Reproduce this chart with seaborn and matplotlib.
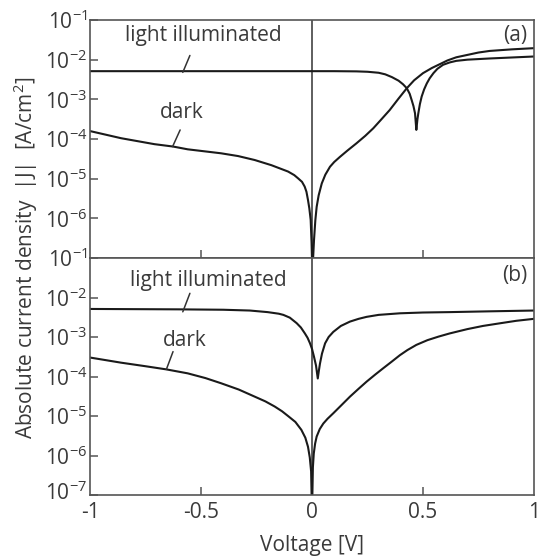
import numpy as np
import pandas as pd
import matplotlib
matplotlib.use("Agg")
import matplotlib.pyplot as plt
import matplotlib.transforms as mtransforms
import seaborn as sns

# ---------------- data (log10 |J| in A/cm^2) ----------------
a_dark_v = [-1.0, -0.86, -0.71, -0.626, -0.56, -0.41, -0.333, -0.258, -0.183, -0.108, -0.08,
            -0.063, -0.045, -0.033, -0.025, -0.018, -0.012, -0.006, -0.002, 0.002, 0.005,
            0.009, 0.015, 0.021, 0.03, 0.044, 0.06, 0.081, 0.10, 0.126, 0.16, 0.20, 0.24,
            0.276, 0.31, 0.35, 0.39, 0.427, 0.46, 0.50, 0.54, 0.577, 0.61, 0.65, 0.70,
            0.75, 0.80, 0.90, 1.0]
a_dark_logj = [-3.80, -3.98, -4.13, -4.19, -4.26, -4.36, -4.43, -4.53, -4.66, -4.82, -4.91,
               -4.99, -5.08, -5.2, -5.33, -5.54, -5.75, -6.04, -6.6, -7.5, -7.0,
               -6.55, -6.05, -5.71, -5.42, -5.12, -4.90, -4.70, -4.58, -4.45, -4.29, -4.11, -3.92,
               -3.73, -3.52, -3.27, -2.98, -2.72, -2.52, -2.34, -2.21, -2.11, -2.02, -1.94, -1.88,
               -1.82, -1.78, -1.74, -1.71]

a_light_v = [-1.0, -0.5, 0.0, 0.1, 0.2, 0.25, 0.3, 0.33, 0.36, 0.39, 0.41, 0.427, 0.44,
             0.449, 0.457, 0.464, 0.47, 0.475, 0.479, 0.486, 0.494, 0.505, 0.517, 0.53,
             0.547, 0.565, 0.59, 0.62, 0.65, 0.70, 0.80, 0.90, 1.0]
a_light_logj = [-2.29, -2.29, -2.29, -2.29, -2.295, -2.305, -2.33, -2.37, -2.44, -2.53, -2.62,
                -2.72, -2.86, -3.02, -3.17, -3.35, -3.77, -3.5, -3.35, -3.12, -2.93, -2.75,
                -2.60, -2.47, -2.34, -2.23, -2.13, -2.07, -2.03, -2.0, -1.97, -1.945, -1.92]

b_dark_v = [-1.0, -0.86, -0.75, -0.656, -0.56, -0.48, -0.41, -0.33, -0.258, -0.21, -0.168,
            -0.135, -0.108, -0.075, -0.048, -0.03, -0.018, -0.01, -0.004, 0.0, 0.004, 0.008,
            0.014, 0.021, 0.035, 0.051, 0.07, 0.096, 0.13, 0.171, 0.21, 0.246, 0.285, 0.321,
            0.36, 0.396, 0.43, 0.47, 0.52, 0.57, 0.62, 0.70, 0.77, 0.85, 0.92, 1.0]
b_dark_logj = [-3.52, -3.65, -3.74, -3.82, -3.92, -4.04, -4.17, -4.33, -4.51, -4.63, -4.76,
               -4.88, -5.0, -5.15, -5.35, -5.55, -5.78, -6.05, -6.4, -7.5, -6.3, -5.95,
               -5.7, -5.52, -5.33, -5.19, -5.07, -4.93, -4.74, -4.51, -4.31, -4.13, -3.95, -3.79,
               -3.62, -3.46, -3.33, -3.2, -3.08, -2.99, -2.91, -2.8, -2.72, -2.65, -2.59, -2.54]

b_light_v = [-1.0, -0.6, -0.4, -0.28, -0.2, -0.15, -0.129, -0.1, -0.069, -0.05, -0.032, -0.02,
             -0.009, 0.0, 0.009, 0.018, 0.026, 0.031, 0.036, 0.045, 0.059, 0.075, 0.096, 0.13,
             0.171, 0.21, 0.246, 0.30, 0.396, 0.50, 0.62, 0.80, 1.0]
b_light_logj = [-2.29, -2.30, -2.31, -2.33, -2.37, -2.41, -2.44, -2.51, -2.65, -2.76, -2.91, -3.02,
                -3.16, -3.3, -3.50, -3.72, -4.05, -3.85, -3.67, -3.42, -3.16, -3.0, -2.87, -2.72,
                -2.61, -2.54, -2.49, -2.44, -2.40, -2.38, -2.37, -2.35, -2.33]

y_ticks = [1e-7, 1e-6, 1e-5, 1e-4, 1e-3, 1e-2, 1e-1]
y_labels_a = ["", "10$^{-6}$", "10$^{-5}$", "10$^{-4}$", "10$^{-3}$", "10$^{-2}$", "10$^{-1}$"]
y_labels_b = ["10$^{-7}$", "10$^{-6}$", "10$^{-5}$", "10$^{-4}$", "10$^{-3}$", "10$^{-2}$", "10$^{-1}$"]
x_ticks = [-1, -0.5, 0, 0.5, 1]
x_labels = ["-1", "-0.5", "0", "0.5", "1"]

# ---------------- style ----------------
sns.set_style("ticks")
plt.rcParams["font.family"] = ["Open Sans", "DejaVu Sans"]
plt.rcParams["mathtext.fontset"] = "custom"
plt.rcParams["mathtext.rm"] = "Open Sans"
plt.rcParams["mathtext.it"] = "Open Sans"
plt.rcParams["mathtext.bf"] = "Open Sans"
plt.rcParams["mathtext.default"] = "regular"
plt.rcParams["axes.unicode_minus"] = False

W, H = 541, 558
fig = plt.figure(figsize=(W / 100, H / 100), dpi=100)
frame_col = "#555555"
text_col = "#3a3a3a"
fs = 15

L, R = 90 / W, 534 / W
top_a, mid, bot = 1 - 20 / H, 1 - 258 / H, 1 - 495 / H
ax_a = fig.add_axes([L, mid, R - L, top_a - mid])
ax_b = fig.add_axes([L, bot, R - L, mid - bot])


def draw(ax, curves, ylabels, show_x):
    for v, lj in curves:
        df = pd.DataFrame({"V": v, "J": 10.0 ** np.array(lj)})
        sns.lineplot(data=df, x="V", y="J", ax=ax, color="#1a1a1a", lw=1.5, sort=False)
    ax.set_yscale("log")
    ax.set_xlim(-1, 1)
    ax.set_ylim(1e-7, 1e-1)
    ax.axvline(0, color="#333333", lw=1.1, zorder=0)
    ax.set_yticks(y_ticks)
    ax.set_yticklabels(ylabels)
    ax.yaxis.set_minor_locator(matplotlib.ticker.NullLocator())
    ax.tick_params(axis="both", direction="in", length=6, width=1.1, color=frame_col,
                   labelsize=fs, labelcolor=text_col, pad=2)
    if show_x:
        ax.set_xticks(x_ticks)
        ax.set_xticklabels(x_labels)
        for t in ax.xaxis.get_major_ticks():
            if abs(t.get_loc()) in (0, 1):
                t.tick1line.set_visible(False)
    else:
        ax.set_xticks([-0.5, 0.5])
        ax.set_xticklabels([])
    ax.tick_params(axis="x", pad=5)
    ax.set_xlabel("")
    ax.set_ylabel("")
    for s in ax.spines.values():
        s.set_visible(True)
        s.set_color(frame_col)
        s.set_linewidth(1.2)


draw(ax_a, [(a_dark_v, a_dark_logj), (a_light_v, a_light_logj)], y_labels_a, False)
draw(ax_b, [(b_dark_v, b_dark_logj), (b_light_v, b_light_logj)], y_labels_b, True)

# lift the lowest y label slightly so it clears the "-1" tick label
lbl = ax_b.get_yticklabels()[0]
lbl.set_transform(lbl.get_transform() + mtransforms.ScaledTranslation(0, 4 / 100, fig.dpi_scale_trans))

# annotations
lc = "#333333"
ax_a.text(0.256, 0.933, "light illuminated", transform=ax_a.transAxes, ha="center", va="center",
          fontsize=fs, color=text_col)
ax_a.plot([0.209, 0.225], [0.780, 0.851], transform=ax_a.transAxes, color=lc, lw=1.1)
ax_a.text(0.206, 0.613, "dark", transform=ax_a.transAxes, ha="center", va="center",
          fontsize=fs, color=text_col)
ax_a.plot([0.186, 0.203], [0.468, 0.538], transform=ax_a.transAxes, color=lc, lw=1.1)
ax_a.text(0.984, 0.933, "(a)", transform=ax_a.transAxes, ha="right", va="center",
          fontsize=fs, color=text_col)

ax_b.text(0.267, 0.905, "light illuminated", transform=ax_b.transAxes, ha="center", va="center",
          fontsize=fs, color=text_col)
ax_b.plot([0.209, 0.225], [0.773, 0.851], transform=ax_b.transAxes, color=lc, lw=1.1)
ax_b.text(0.214, 0.654, "dark", transform=ax_b.transAxes, ha="center", va="center",
          fontsize=fs, color=text_col)
ax_b.plot([0.172, 0.187], [0.530, 0.605], transform=ax_b.transAxes, color=lc, lw=1.1)
ax_b.text(0.984, 0.928, "(b)", transform=ax_b.transAxes, ha="right", va="center",
          fontsize=fs, color=text_col)

fig.text(26 / W, 1 - 258 / H, "Absolute current density  |J|  [A/cm$^{2}$]", rotation=90,
         ha="center", va="center", fontsize=fs, color=text_col)
fig.text(312 / W, 1 - 545 / H, "Voltage [V]", ha="center", va="center", fontsize=fs,
         color=text_col)

fig.savefig("out.png", dpi=100)
